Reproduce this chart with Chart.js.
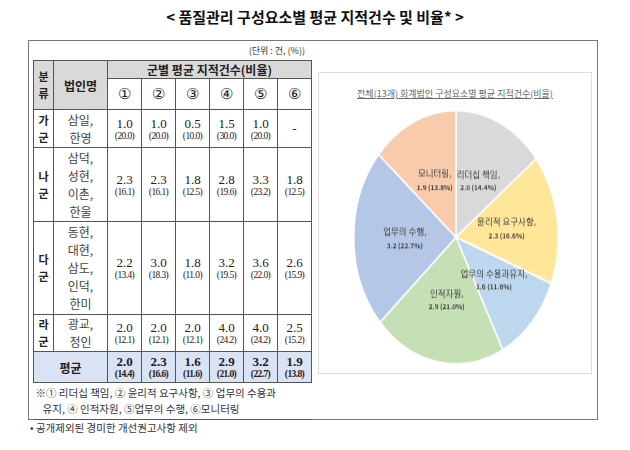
<!DOCTYPE html>
<html><head><meta charset="utf-8">
<script src="https://cdn.jsdelivr.net/npm/chart.js@4"></script>
<style>
body{margin:0;width:630px;height:450px;background:#fff;font-family:"Noto Sans CJK KR",sans-serif;position:relative;overflow:hidden}
#title{position:absolute;top:6px;left:0;width:630px;text-align:center;font-weight:bold;font-size:15px;color:#111}
#box{position:absolute;left:28px;top:40px;width:568px;height:378px;border:1px solid #777}
#unit{position:absolute;left:200px;top:44px;width:105px;text-align:right;font-size:9px;color:#333}
table{position:absolute;left:33px;top:60px;border-collapse:collapse;font-family:"Liberation Serif",serif}
td{border:1px solid #555;text-align:center;padding:0;font-size:13px;color:#222}
.hd{background:#d9d9d9;font-family:"Noto Sans CJK KR";font-weight:bold}
.g{font-family:"Noto Sans CJK KR";font-weight:bold;font-size:11px;line-height:17px}
.nm{font-family:"Noto Sans CJK KR";font-size:12px;line-height:18px;color:#444}
.pc{font-size:9.5px;letter-spacing:-0.6px;display:block;line-height:11px}
.v{display:block;line-height:15px}
.avg td{background:#dae3f3;font-weight:bold}
.note{border-left:none;border-right:none;border-bottom:1px solid #555;text-align:left;font-family:"Noto Sans CJK KR";font-size:10.5px;line-height:16px;padding:2px 2px;color:#333}
#foot{position:absolute;left:30px;top:420px;font-size:10.5px;color:#333}
#pieframe{position:absolute;left:318px;top:72px;width:272px;height:300px;border:1px solid #ddd}
#ptitle{position:absolute;left:0;top:14px;width:272px;text-align:center;font-size:9px;color:#666;text-decoration:underline}
#wrap{position:absolute;left:32px;top:34px;width:210px;height:210px;transform:scaleY(1.24);transform-origin:top left}
</style></head><body>
<div id="title">&lt; 품질관리 구성요소별 평균 지적건수 및 비율* &gt;</div>
<div id="box"></div>
<div id="unit">(단위 : 건, (%))</div>
<table id="tbl"></table>
<div id="foot">• 공개제외된 경미한 개선권고사항 제외</div>
<div id="pieframe"><div id="ptitle">전체(13개) 회계법인 구성요소별 평균 지적건수(비율)</div>
<div id="wrap"><canvas id="pie" width="210" height="210" style="width:210px;height:210px"></canvas></div></div>
<script>
const groups = ["가<br>군", "나<br>군", "다<br>군", "라<br>군"];
const firms = ["삼일,<br>한영", "삼덕,<br>성현,<br>이촌,<br>한울", "동현,<br>대현,<br>삼도,<br>인덕,<br>한미", "광교,<br>정인"];
const counts = [
  [1.0, 1.0, 0.5, 1.5, 1.0, null],
  [2.3, 2.3, 1.8, 2.8, 3.3, 1.8],
  [2.2, 3.0, 1.8, 3.2, 3.6, 2.6],
  [2.0, 2.0, 2.0, 4.0, 4.0, 2.5],
];
const shares = [
  [20.0, 20.0, 10.0, 30.0, 20.0, null],
  [16.1, 16.1, 12.5, 19.6, 23.2, 12.5],
  [13.4, 18.3, 11.0, 19.5, 22.0, 15.9],
  [12.1, 12.1, 12.1, 24.2, 24.2, 15.2],
];
const avgCounts = [2.0, 2.3, 1.6, 2.9, 3.2, 1.9];
const avgShares = [14.4, 16.6, 11.6, 21.0, 22.7, 13.8];
const colNums = ["①", "②", "③", "④", "⑤", "⑥"];
const components = ["리더십 책임", "윤리적 요구사항", "업무의 수용과유지", "인적자원", "업무의 수행", "모니터링"];
const rowHeights = [38, 74, 93, 34];

const cellW = 33;
let html = `<tr style="height:17px"><td class="hd" rowspan="2" style="width:19px;font-size:11px;line-height:17px">분<br>류</td><td class="hd" rowspan="2" style="width:53px;font-size:12px">법인명</td><td class="hd" colspan="6" style="font-size:12px">군별 평균 지적건수(비율)</td></tr><tr style="height:31px">`;
colNums.forEach((c) => { html += `<td style="width:${cellW}px;font-size:15px">${c}</td>`; });
html += "</tr>";
groups.forEach((g, i) => {
  html += `<tr style="height:${rowHeights[i]}px"><td class="g">${g}</td><td class="nm">${firms[i]}</td>`;
  counts[i].forEach((v, j) => {
    html += v === null ? `<td>-</td>` : `<td><span class="v">${v.toFixed(1)}</span><span class="pc">(${shares[i][j].toFixed(1)})</span></td>`;
  });
  html += "</tr>";
});
html += `<tr class="avg" style="height:31px"><td colspan="2" style="font-family:'Noto Sans CJK KR';font-size:12px">평균</td>`;
avgCounts.forEach((v, j) => { html += `<td><span class="v">${v.toFixed(1)}</span><span class="pc">(${avgShares[j].toFixed(1)})</span></td>`; });
html += `</tr><tr><td colspan="8" class="note">※① 리더십 책임, ② 윤리적 요구사항, ③ 업무의 수용과<br>&nbsp;&nbsp;&nbsp;유지, ④ 인적자원, ⑤업무의 수행, ⑥모니터링</td></tr>`;
document.getElementById("tbl").innerHTML = html;

const SY = 1.24;
const labelPlugin = {
  id: "sliceLabels",
  afterDatasetsDraw(chart) {
    const ctx = chart.ctx;
    const meta = chart.getDatasetMeta(0);
    meta.data.forEach((arc, i) => {
      const p = arc.tooltipPosition();
      ctx.save();
      ctx.translate(p.x, p.y);
      ctx.scale(1, 1 / SY);
      ctx.textAlign = "center";
      ctx.fillStyle = "#404040";
      ctx.font = "8.5px 'Noto Sans CJK KR'";
      ctx.fillText(components[i] + ",", 0, -3);
      ctx.font = "bold 6.5px 'Noto Sans CJK KR'";
      ctx.fillText(avgCounts[i].toFixed(1) + " (" + avgShares[i].toFixed(1) + "%)", 0, 10);
      ctx.restore();
    });
  },
};

new Chart(document.getElementById("pie"), {
  type: "pie",
  data: {
    labels: components,
    datasets: [{
      data: avgCounts,
      backgroundColor: ["#d9d9d9", "#ffe699", "#bdd7ee", "#c5e0b4", "#b4c7e7", "#f8cbad"],
      borderColor: "#ffffff",
      borderWidth: 1.5,
    }],
  },
  options: {
    responsive: false,
    animation: false,
    layout: { padding: 2 },
    plugins: { legend: { display: false }, tooltip: { enabled: false } },
  },
  plugins: [labelPlugin],
});
</script>
</body></html>
